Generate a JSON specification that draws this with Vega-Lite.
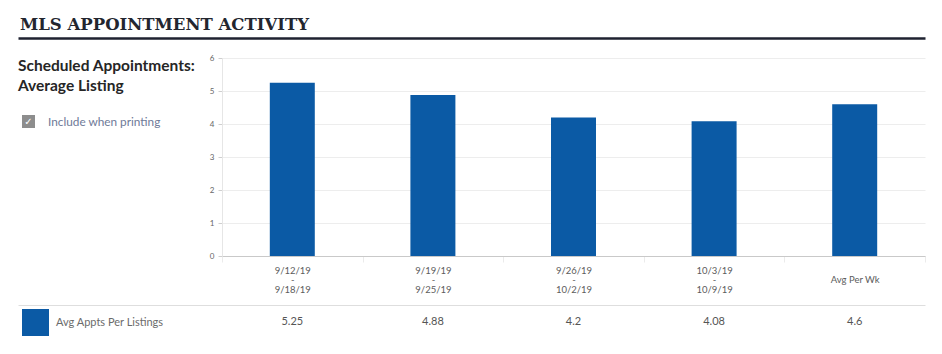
{
  "$schema": "https://vega.github.io/schema/vega-lite/v6.json",
  "background": "#ffffff",
  "padding": {"left": 18, "top": 11, "right": 17, "bottom": 6},
  "config": {
    "view": {"stroke": null},
    "font": "Lato",
    "range": {"category": ["#0b5aa5"]}
  },
  "datasets": {
    "appts": [
      {"week": "9/12/19\n-\n9/18/19", "series": "Avg Appts Per Listings", "value": 5.25},
      {"week": "9/19/19\n-\n9/25/19", "series": "Avg Appts Per Listings", "value": 4.88},
      {"week": "9/26/19\n-\n10/2/19", "series": "Avg Appts Per Listings", "value": 4.2},
      {"week": "10/3/19\n-\n10/9/19", "series": "Avg Appts Per Listings", "value": 4.08},
      {"week": "Avg Per Wk", "series": "Avg Appts Per Listings", "value": 4.6}
    ]
  },
  "spacing": 16,
  "vconcat": [
    {
      "width": 907,
      "height": 27,
      "data": {"values": [{"title": "MLS APPOINTMENT ACTIVITY"}]},
      "mark": {"type": "text", "align": "left", "baseline": "middle", "font": "DejaVu Serif", "fontWeight": "bold", "fontSize": 16.5, "color": "#23262f", "xOffset": 2},
      "encoding": {
        "x": {"field": "title", "type": "nominal", "scale": {"type": "point", "padding": 0, "align": 0}, "axis": {"orient": "bottom", "title": null, "labels": false, "ticks": false, "grid": false, "domain": true, "domainColor": "#1f2230", "domainWidth": 2.5}},
        "text": {"field": "title"}
      }
    },
    {
      "spacing": 11,
      "resolve": {"scale": {"color": "independent", "x": "independent"}},
      "vconcat": [
        {
          "spacing": 8,
          "hconcat": [
            {
              "width": 180,
              "height": 72,
              "data": {"values": [
                {"block": "heading", "label": "Scheduled Appointments:\nAverage Listing", "checked": false},
                {"block": "option", "label": "Include when printing", "checked": true}
              ]},
              "encoding": {
                "x": {"datum": "panel", "type": "nominal", "scale": {"type": "point", "padding": 0, "align": 0}, "axis": null},
                "y": {"field": "block", "type": "nominal", "sort": null, "scale": {"type": "point", "padding": 0.1545}, "axis": null}
              },
              "layer": [
                {
                  "transform": [{"filter": "datum.block === 'heading'"}],
                  "mark": {"type": "text", "align": "left", "baseline": "middle", "fontSize": 15.5, "fontWeight": "bold", "color": "#262626", "lineBreak": "\n", "lineHeight": 20},
                  "encoding": {"text": {"field": "label"}}
                },
                {
                  "transform": [{"filter": "datum.checked"}],
                  "mark": {"type": "square", "filled": true, "size": 169, "color": "#8d8d8d", "opacity": 1, "xOffset": 10.5},
                  "encoding": {}
                },
                {
                  "transform": [{"filter": "datum.checked"}],
                  "mark": {"type": "text", "align": "center", "baseline": "middle", "fontSize": 10, "color": "#ffffff", "xOffset": 10.5, "font": "DejaVu Sans"},
                  "encoding": {"text": {"value": "✓"}}
                },
                {
                  "transform": [{"filter": "datum.block === 'option'"}],
                  "mark": {"type": "text", "align": "left", "baseline": "middle", "fontSize": 11.8, "color": "#6e7a98", "xOffset": 30},
                  "encoding": {"text": {"field": "label"}}
                }
              ]
            },
            {
              "width": 703,
              "height": 198,
              "data": {"name": "appts"},
              "mark": {"type": "bar", "width": {"band": 0.32}},
              "encoding": {
                "x": {"field": "week", "type": "nominal", "sort": null, "scale": {"type": "band", "paddingInner": 0, "paddingOuter": 0},
                  "axis": {"title": null, "labelAngle": 0, "labelExpr": "length(split(datum.label, '\\n')) > 1 ? split(datum.label, '\\n') : ['', datum.label]", "labelFontSize": 9.5, "labelColor": "#5c5c5c", "labelLineHeight": 9.5, "labelBaseline": "middle", "labelPadding": 8, "tickBand": "extent", "tickSize": 6, "tickColor": "#ebebeb", "domainColor": "#c9c9c9", "labelLimit": 0}},
                "y": {"field": "value", "type": "quantitative", "scale": {"domain": [0, 6]},
                  "axis": {"title": null, "values": [0, 1, 2, 3, 4, 5, 6], "labelFontSize": 8, "labelColor": "#666666", "tickSize": 4, "tickColor": "#cfcfcf", "domainColor": "#e6e6e6", "gridColor": "#ededed", "labelPadding": 4, "minExtent": 16, "maxExtent": 16}},
                "color": {"field": "series", "type": "nominal", "legend": null}
              }
            }
          ]
        },
        {
          "width": 907,
          "height": 34,
          "data": {"name": "appts"},
          "encoding": {
            "x": {"field": "week", "type": "nominal", "sort": null, "scale": {"type": "band", "paddingInner": 0, "paddingOuter": 0.72546, "align": 1},
              "axis": {"orient": "top", "title": null, "labels": false, "ticks": false, "grid": false, "domainColor": "#dedede"}}
          },
          "layer": [
            {
              "mark": {"type": "text", "fontSize": 11, "color": "#555555", "baseline": "middle"},
              "encoding": {"text": {"field": "value", "type": "quantitative", "format": "~g"}}
            },
            {
              "mark": {"type": "text", "baseline": "middle"},
              "encoding": {
                "text": {"value": ""},
                "color": {"field": "series", "type": "nominal", "legend": {"orient": "top-left", "offset": 4, "title": null, "symbolType": "square", "symbolSize": 729, "symbolStrokeWidth": 0, "labelFontSize": 11, "labelColor": "#6b6b6b", "labelOffset": 7, "padding": 0}}
              }
            }
          ]
        }
      ]
    }
  ]
}
